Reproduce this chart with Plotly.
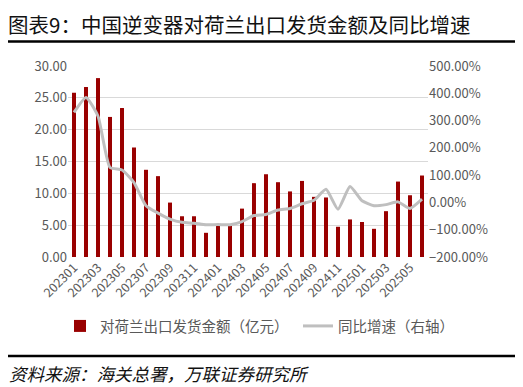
import plotly.graph_objects as go

months = ["202301","202302","202303","202304","202305","202306","202307","202308","202309","202310",
          "202311","202312","202401","202402","202403","202404","202405","202406","202407","202408",
          "202409","202410","202411","202412","202501","202502","202503","202504","202505","202506"]
export_value = [25.8, 26.7, 28.1, 22.0, 23.4, 17.2, 13.7, 12.7, 8.55, 6.4,
                6.4, 3.8, 5.0, 4.95, 7.6, 11.6, 13.0, 11.75, 10.3, 11.95,
                9.45, 9.35, 4.75, 5.9, 5.5, 4.43, 7.2, 11.85, 9.7, 12.8]
yoy_growth = [330, 385, 316, 128, 119, 73, -12, -39, -61, -73,
              -76, -82, -81, -82, -70, -48, -44, -28, -22, -5,
              8, 48, -25, 58, 6, -12, -8, 2, -22, 12]
tick_labels = months[::2]

bar_name = "对荷兰出口发货金额（亿元）"
line_name = "同比增速（右轴）"
title_text = "图表9：中国逆变器对荷兰出口发货金额及同比增速"
source_text = "资料来源：海关总署，万联证券研究所"

# page has an 8px body margin; work in screen coordinates and convert
OFF = 8
W, H = 523, 387
PL, PR, PT, PB = 68, 428, 66, 257   # plot box in screen pixels
L, T = PL - OFF, PT - OFF
pw, ph = PR - PL, PB - PT
R, B = W - L - pw, H - T - ph

def px(x):
    return (x - PL) / pw

def py(y):
    return (PB - y) / ph

FONT = "Noto Sans CJK SC"
GREY = "#595959"

fig = go.Figure()
fig.add_trace(go.Bar(x=months, y=export_value, name=bar_name, legend="legend",
                     marker=dict(color="#990000", line=dict(width=0)), width=0.33))
fig.add_trace(go.Scatter(x=months, y=yoy_growth, name=line_name, yaxis="y2", mode="lines",
                         legend="legend2",
                         line=dict(color="#BFBFBF", width=3, shape="spline", smoothing=0.5)))

leg_common = dict(orientation="h", yanchor="middle", y=py(326), xanchor="left",
                  font=dict(size=14.5, color=GREY), itemwidth=30,
                  bgcolor="rgba(0,0,0,0)")

fig.update_layout(
    width=W, height=H, margin=dict(l=L, r=R, t=T, b=B, autoexpand=False),
    paper_bgcolor="white", plot_bgcolor="white",
    font=dict(family=FONT, color=GREY, size=12),
    showlegend=True,
    legend=dict(x=px(60), **leg_common),
    legend2=dict(x=px(298), **leg_common),
    xaxis=dict(type="category", tickmode="array", tickvals=tick_labels, ticktext=tick_labels,
               tickangle=-45, showgrid=False, showline=False,
               ticks="", tickfont=dict(size=12.5, color=GREY), range=[-0.5, 29.5]),
    yaxis=dict(range=[0, 30], dtick=5, tickformat=".2f", showgrid=True, gridcolor="#d9d9d9",
               gridwidth=1, zeroline=False, showline=False, ticks="",
               tickfont=dict(size=13, color=GREY)),
    yaxis2=dict(range=[-200, 500], dtick=100, tickformat=".2f", ticksuffix="%", overlaying="y",
                side="right", showgrid=False, zeroline=False, showline=False,
                tickfont=dict(size=13, color=GREY)),
)

# title and separator lines
for yy in (5.5, 41.5, 356):
    fig.add_shape(type="line", xref="paper", yref="paper", x0=px(5), x1=px(518), y0=py(yy), y1=py(yy),
                  line=dict(color="black", width=2.5))
fig.add_annotation(text=title_text, xref="paper", yref="paper", x=px(6), y=py(24),
                   xanchor="left", yanchor="middle", showarrow=False,
                   font=dict(family=FONT, size=20.5, color="#111111"))
fig.add_annotation(text="<i>" + source_text + "</i>", xref="paper", yref="paper", x=px(7), y=py(373),
                   xanchor="left", yanchor="middle", showarrow=False,
                   font=dict(family=FONT, size=17.5, color="#111111"))

fig.write_html("out.html")
